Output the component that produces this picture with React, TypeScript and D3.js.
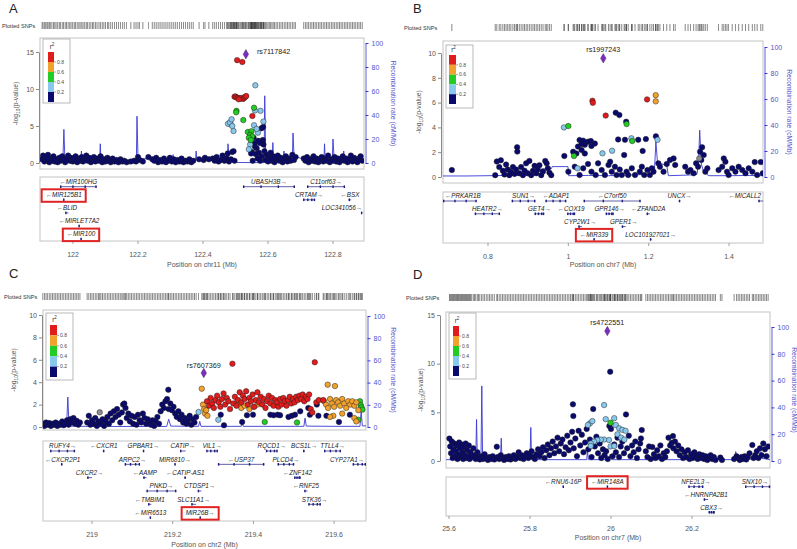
import React, { useEffect, useRef } from "react";
import * as d3 from "d3";

type Pt = [number, number];
type Gene = [string, number, number, number, number, number]; // name, start, end, strand, row, highlighted

// ---------------- shared ----------------
const ldLegendLabels = ["0.8", "0.6", "0.4", "0.2"];
const recombTicks = [0, 20, 40, 60, 80, 100];

// ---------------- Panel A (chr11) ----------------
const aNavy: Pt[] = [
  [121.905,0.5],[121.908,1.0],[121.912,0.2],[121.916,0.8],[121.92,0.4],[121.923,1.1],[121.927,0.1],[121.93,0.6],[121.935,0.3],[121.94,0.9],[121.944,0.2],[121.948,0.5],[121.953,0.1],[121.958,0.7],[121.962,0.3],[121.967,0.9],[121.971,0.4],[121.976,0.1],[121.98,0.6],[121.985,1.0],[121.99,0.3],[121.994,0.7],[121.999,0.2],[122.004,0.5],[122.008,0.9],[122.013,0.1],[122.018,0.6],[122.022,0.3],[122.027,0.8],[122.031,0.2],[122.036,0.5],[122.041,1.0],[122.045,0.3],[122.05,0.7],[122.055,0.1],[122.06,0.4],[122.064,0.8],[122.069,0.2],[122.074,0.6],[122.08,0.3],[122.085,0.9],[122.09,0.1],[122.095,0.5],[122.1,0.2],[122.106,0.7],[122.11,0.3],[122.116,0.1],[122.122,0.6],[122.128,0.2],[122.134,0.4],[122.14,0.1],[122.146,0.5],[122.152,0.2],[122.158,0.3],[122.165,0.1],[122.178,0.2],[122.188,0.3],[122.194,0.2],[122.2,0.8],[122.205,0.4],[122.215,0.2],[122.232,0.8],[122.244,0.5],[122.25,0.3],[122.256,0.7],[122.262,0.1],[122.268,0.4],[122.274,0.2],[122.28,0.6],[122.286,0.1],[122.292,0.3],[122.298,0.7],[122.304,0.2],[122.31,0.5],[122.316,0.1],[122.322,0.4],[122.328,0.2],[122.334,0.6],[122.34,0.1],[122.346,0.3],[122.352,0.2],[122.358,0.5],[122.364,0.1],[122.37,0.3],[122.388,0.5],[122.402,0.4],[122.406,0.7],[122.418,0.5],[122.43,0.6],[122.436,0.3],[122.442,0.8],[122.448,0.2],[122.454,0.4],[122.46,1.0],[122.466,0.3],[122.472,0.6],[122.476,1.3],[122.48,0.2],[122.486,0.5],[122.49,1.5],[122.494,1.6],[122.497,0.3],
  [122.55,1.5],[122.553,0.3],[122.558,2.7],[122.562,1.2],[122.565,2.0],[122.568,0.6],[122.572,1.4],[122.576,0.3],[122.58,0.9],[122.584,3.1],[122.586,2.5],[122.589,1.6],[122.592,0.4],[122.596,1.1],[122.6,0.2],[122.604,0.7],[122.608,1.4],[122.612,0.3],[122.616,0.9],[122.62,0.1],[122.625,0.6],[122.63,1.0],[122.635,0.3],[122.64,0.7],[122.645,0.1],[122.65,0.5],[122.655,0.9],[122.66,0.2],[122.665,0.6],[122.67,0.3],[122.675,1.1],[122.68,0.4],[122.685,0.8],[122.71,0.6],[122.715,0.3],[122.72,0.8],[122.725,0.1],[122.73,0.5],[122.735,0.3],[122.74,0.9],[122.745,0.2],[122.75,0.6],[122.755,0.1],[122.76,0.4],[122.765,0.8],[122.77,0.2],[122.775,0.6],[122.78,0.3],[122.785,1.0],[122.79,0.1],[122.795,0.5],[122.8,0.3],[122.805,0.8],[122.81,0.2],[122.815,0.6],[122.82,0.1],[122.825,0.4],[122.83,0.9],[122.835,0.3],[122.84,0.6],[122.845,0.1],[122.85,0.5],[122.855,1.0],[122.86,0.2],[122.865,0.7],[122.87,0.4],[122.875,0.1],[122.88,0.6],[122.885,0.9],[122.89,0.3],
  [122.556,3.4],[122.548,1.3],[122.56,2.2],[122.58,4.7],[122.585,4.85],[122.57,3.0],[122.575,2.7]
];
const aLightBlue: Pt[] = [[122.561,10.5],[122.577,7.05],[122.56,7.1],[122.485,5.23],[122.477,5.3],[122.483,5.5],[122.494,4.32],[122.49,5.0],[122.488,5.9],[122.586,5.6],[122.557,5.1],[122.569,4.1],[122.549,3.2],[122.545,2.5],[122.541,1.85],[122.565,4.6]];
const aGreen: Pt[] = [[122.557,7.47],[122.503,7.05],[122.502,6.85],[122.524,5.8],[122.538,4.19],[122.549,4.3],[122.545,3.8],[122.551,3.6],[122.541,3.4],[122.547,3.1]];
const aOrange: Pt[] = [];
const aRed: Pt[] = [[122.505,13.9],[122.521,13.65],[122.497,8.95],[122.5,9.0],[122.503,8.85],[122.507,8.8],[122.511,8.75],[122.515,8.7],[122.519,8.8],[122.523,8.65],[122.527,8.8],[122.53,8.95],[122.533,9.05],[122.51,8.6],[122.552,6.35]];
const aGray: Pt[] = [];
const aLead: Pt = [122.532, 14.7];
const aLeadName = "rs7117842";
const aRecombPos = [121.898,121.95,121.969,121.972,121.975,122.0,122.024,122.026,122.028,122.06,122.082,122.084,122.086,122.15,122.195,122.197,122.2,122.25,122.306,122.308,122.31,122.35,122.377,122.379,122.381,122.43,122.475,122.477,122.48,122.5,122.55,122.588,122.59,122.593,122.613,122.615,122.617,122.647,122.649,122.651,122.675,122.677,122.68,122.7,122.772,122.774,122.776,122.798,122.8,122.803,122.831,122.833,122.835,122.87,122.895];
const aRecombRate = [3,3,3,28,4,3,3,10,3,2.5,2.5,16,3,2.5,2.5,39,4,3,3,7,3,3,3,10,3,2.5,3,16,2,0.5,0.3,0.3,56,4,3,17,4,4,10,4,4,25,6,4,3,16,4,4,20,5,3,10,3,2,2];
const aGenes: Gene[] = [
  ["MIR100HG",121.96,122.073,-1,0,0],["UBASH3B",122.523,122.683,1,0,0],["C11orf63",122.72,122.837,1,0,0],
  ["MIR125B1",121.9695,121.9705,-1,1,1],["CRTAM",122.708,122.745,1,1,0],["BSX",122.848,122.856,-1,1,0],
  ["BLID",121.976,121.986,-1,2,0],["LOC341056",122.886,122.89,1,2,0],
  ["MIRLET7A2",122.0168,122.0172,-1,3,0],["MIR100",122.0228,122.0232,-1,4,1]
];
const aXTicks = [122, 122.2, 122.4, 122.6, 122.8];
const aYTicks = [0, 5, 10, 15];

// ---------------- Panel B (chr7) ----------------
const bNavy: Pt[] = [
  [0.71,0.56],
  [0.818,0.15],[0.822,1.25],[0.828,0.8],[0.832,1.35],[0.837,0.5],[0.841,0.2],[0.845,1.0],[0.849,0.6],[0.853,0.15],[0.857,0.4],[0.862,0.8],[0.866,0.25],[0.87,0.6],[0.8725,2.4],[0.873,2.05],[0.878,0.3],[0.8825,0.8],[0.887,0.15],[0.891,0.5],[0.895,1.1],[0.899,0.3],[0.903,1.3],[0.9075,0.15],[0.912,0.5],[0.916,0.9],[0.92,0.3],[0.924,0.6],[0.928,0.95],[0.9325,0.15],[0.937,0.45],[0.9425,1.3],[0.946,1.1],[0.949,0.7],[0.953,0.35],[0.9575,0.15],
  [0.99,1.69],[1.028,2.98],[1.037,2.93],[1.041,2.6],[1.049,2.85],[1.056,2.9],[1.066,2.7],[1.0575,2.5],[1.033,2.66],[1.024,2.45],[1.012,2.04],[1.02,1.9],[1.041,1.9],[1.033,2.17],
  [1.0,0.43],[1.016,0.83],[1.028,0.16],[1.037,0.7],[1.049,1.05],[1.0575,0.43],[1.068,0.16],[1.074,1.1],[1.083,0.56],[1.091,0.16],[1.1,0.97],[1.104,1.23],[1.108,0.43],[1.116,0.83],[1.12,0.16],[1.124,3.03],[1.128,0.6],[1.133,0.16],[1.139,1.77],[1.141,3.0],[1.145,0.43],[1.149,0.16],[1.158,0.7],[1.166,0.16],[1.174,3.0],[1.178,0.43],[1.183,0.83],[1.185,2.1],[1.189,0.16],[1.193,3.06],[1.197,0.56],[1.203,0.16],[1.208,0.7],[1.212,0.43],[1.218,3.28],[1.224,1.1],[1.228,0.83],[1.237,0.43],[1.245,1.05],[1.253,1.37],[1.262,1.5],[1.266,0.97],
  [1.118,5.19],[1.127,5.0],[1.144,4.46],
  [1.291,0.83],[1.298,0.43],[1.304,0.56],[1.312,0.3],[1.318,1.1],[1.323,0.83],[1.328,2.04],[1.333,2.4],[1.337,1.77],[1.331,1.37],[1.341,0.43],[1.346,0.7],[1.374,0.56],[1.383,0.83],[1.387,1.5],[1.391,1.23],[1.395,0.43],[1.399,0.16],[1.408,0.7],[1.416,0.43],[1.424,0.83],[1.433,0.56],[1.441,0.3],[1.449,0.7],[1.458,0.43],[1.464,1.2],[1.47,0.16],[1.479,1.2],[1.484,0.3]
];
const bLightBlue: Pt[] = [[0.989,4.0],[1.085,1.91],[1.109,2.12],[1.023,0.7],[1.157,3.12],[1.222,3.0]];
const bGreen: Pt[] = [[1.0,4.11],[1.145,4.27],[1.014,1.69],[1.159,2.9]];
const bOrange: Pt[] = [[1.2175,6.6],[1.2175,6.1]];
const bRed: Pt[] = [[1.06,6.15],[1.061,5.98],[1.093,4.95],[1.196,6.26]];
const bGray: Pt[] = [[1.326,1.5]];
const bLead: Pt = [1.087, 9.57];
const bLeadName = "rs1997243";
const bRecombPos = [0.688,0.75,0.8,0.85,0.9,0.93,0.932,0.958,0.96,0.999,1.001,1.05,1.1,1.15,1.2,1.214,1.218,1.222,1.245,1.249,1.3,1.32,1.324,1.327,1.331,1.336,1.345,1.35,1.4,1.45,1.485];
const bRecombRate = [0.8,0.8,1,1.2,1.5,1.5,6,6.5,8,8,1,1.2,1,1.5,2,3,27,11,9,1,1.5,2,10,36,10,5,2,1,1,1.2,1];
const bGenes: Gene[] = [
  ["PRKAR1B",0.688,0.772,-1,0,0],["SUN1",0.859,0.918,1,0,0],["ADAP1",0.943,0.995,-1,0,0],["C7orf50",1.038,1.18,-1,0,0],["UNCX",1.275,1.279,1,0,0],["MICALL2",1.473,1.485,-1,0,0],
  ["HEATR2",0.767,0.83,1,1,0],["GET4",0.916,0.94,1,1,0],["COX19",0.997,1.017,-1,1,0],["GPR146",1.093,1.113,1,1,0],["ZFAND2A",1.195,1.203,-1,1,0],
  ["CYP2W1",1.025,1.034,1,2,0],["GPER1",1.133,1.143,1,2,0],
  ["MIR339",1.0625,1.0627,-1,3,1],["LOC101927021",1.203,1.207,1,3,0]
];
const bXTicks = [0.8, 1, 1.2, 1.4];
const bYTicks = [0, 2, 4, 6, 8, 10];

// ---------------- Panel C (chr2) ----------------
const cNavy: Pt[] = [
  [218.878,0.3],[218.882,0.1],[218.886,0.4],[218.89,0.2],[218.894,0.35],[218.898,0.1],[218.902,0.3],[218.906,0.2],[218.91,0.4],[218.914,0.1],[218.918,0.3],[218.922,0.2],[218.926,0.5],[218.93,0.15],[218.934,0.35],[218.938,0.6],[218.942,0.2],[218.946,0.7],[218.95,0.4],[218.954,0.8],[218.958,0.3],[218.962,0.55],[218.966,0.2],[218.97,0.4],
  [218.988,0.4],[218.992,1.0],[218.996,0.2],[219.0,0.6],[219.004,0.3],[219.008,0.8],[219.012,0.1],[219.016,0.5],[219.022,0.3],[219.026,0.7],[219.03,0.1],[219.034,0.5],[219.038,0.9],[219.042,0.3],[219.046,1.2],[219.05,0.6],[219.054,1.4],[219.058,0.9],[219.062,1.6],[219.066,1.1],[219.07,0.4],[219.074,1.3],[219.077,2.0],[219.08,2.1],[219.083,1.7],[219.086,0.8],[219.09,1.2],[219.094,0.5],[219.098,1.0],[219.102,0.3],[219.106,0.9],[219.11,0.2],[219.114,1.1],[219.118,0.6],[219.122,0.4],[219.126,1.2],[219.13,0.8],[219.134,0.3],[219.138,0.7],[219.142,0.4],[219.146,0.2],[219.15,0.6],[219.154,0.1],[219.158,0.5],[219.162,0.9],[219.166,0.3],[219.17,1.4],[219.174,2.0],[219.178,1.7],[219.182,2.3],[219.186,2.5],[219.189,3.33],[219.19,1.6],[219.194,2.1],[219.198,1.5],[219.202,1.8],[219.206,1.2],[219.21,0.9],[219.214,1.4],[219.218,0.7],[219.222,1.1],[219.226,0.4],[219.23,0.8],[219.234,0.3],[219.238,0.6],[219.242,1.0],[219.246,0.2],[219.25,0.7],[219.254,0.4],[219.258,0.9],
  [219.319,1.1],[219.327,0.15],[219.372,0.45],[219.384,1.05],[219.399,1.1],[219.442,1.1],[219.45,1.05],[219.46,1.1],[219.466,1.05],[219.487,0.9],[219.495,1.0],[219.503,1.1],[219.516,1.4],[219.536,1.7],[219.54,1.1],[219.557,2.0],[219.561,1.0],[219.581,1.0],[219.612,0.45],[219.639,1.1]
];
const cLightBlue: Pt[] = [[219.264,1.34],[219.313,0.65]];
const cGreen: Pt[] = [[219.428,0.45],[219.508,0.4],[219.664,2.3],[219.666,1.95],[219.668,1.75],[219.67,1.55],[219.66,0.65]];
const cOrange: Pt[] = [[219.272,3.42],[219.275,2.0],[219.278,1.6],[219.28,1.2],[219.283,1.5],[219.286,1.0],[219.36,2.3],[219.364,2.0],[219.37,1.7],[219.378,1.9],[219.39,1.6],[219.4,1.8],[219.41,2.0],[219.584,3.78],[219.602,3.66],[219.575,2.3],[219.58,2.0],[219.585,1.7],[219.59,2.5],[219.595,2.1],[219.6,1.8],[219.605,2.4],[219.61,2.2],[219.615,1.9],[219.62,2.5],[219.625,2.1],[219.63,1.7],[219.635,2.3],[219.64,2.0],[219.645,2.3],[219.65,1.9],[219.655,2.2],[219.66,1.5],[219.598,1.0],[219.59,0.9],[219.62,1.2],[219.65,0.8],[219.655,0.5]];
const cRed: Pt[] = [[219.285,2.3],[219.29,1.9],[219.294,2.6],[219.298,2.1],[219.302,1.7],[219.306,2.4],[219.31,2.8],[219.314,2.2],[219.318,1.8],[219.322,2.5],[219.326,3.0],[219.33,2.0],[219.334,2.6],[219.338,2.3],[219.342,1.6],[219.348,5.65],[219.35,2.1],[219.354,2.7],[219.358,1.9],[219.362,2.4],[219.366,3.1],[219.37,2.2],[219.374,2.8],[219.378,2.5],[219.382,3.2],[219.386,2.0],[219.39,2.6],[219.394,2.3],[219.398,2.9],[219.402,1.8],[219.406,2.4],[219.41,3.1],[219.414,2.2],[219.418,2.7],[219.422,2.0],[219.426,2.5],[219.43,1.7],[219.434,2.3],[219.438,2.8],[219.442,2.1],[219.446,2.6],[219.45,1.9],[219.454,2.4],[219.458,2.2],[219.462,1.8],[219.466,2.5],[219.47,2.0],[219.474,2.6],[219.478,2.3],[219.482,1.9],[219.486,2.4],[219.49,2.7],[219.494,2.1],[219.498,2.5],[219.502,2.2],[219.506,2.7],[219.51,2.4],[219.514,2.8],[219.518,2.5],[219.522,2.9],[219.526,2.3],[219.53,2.7],[219.534,2.5],[219.538,2.9],[219.542,1.6],[219.546,1.3],[219.552,5.78],[219.556,2.2],[219.562,2.4],[219.573,2.4]];
const cGray: Pt[] = [[219.019,1.31]];
const cLead: Pt = [219.277, 4.82];
const cLeadName = "rs7607369";
const cRecombPos = [218.878,218.93,218.937,218.94,218.943,219.0,219.1,219.185,219.19,219.195,219.264,219.267,219.27,219.37,219.372,219.375,219.525,219.528,219.531,219.6,219.664,219.667,219.67,219.679];
const cRecombRate = [0.5,0.5,0.5,27,0.8,0.5,0.5,0.5,7,0.8,0.6,5,0.6,0.6,4,0.6,0.6,8,0.8,0.6,0.6,14,1,1];
const cGenes: Gene[] = [
  ["RUFY4",218.896,218.958,1,0,0],["CXCR1",219.027,219.031,-1,0,0],["GPBAR1",219.126,219.128,1,0,0],["CATIP",219.218,219.232,1,0,0],["VIL1",219.283,219.312,1,0,0],["RQCD1",219.431,219.46,1,0,0],["BCS1L",219.523,219.528,1,0,0],["TTLL4",219.575,219.617,1,0,0],
  ["CXCR2P1",218.923,218.927,-1,1,0],["ARPC2",219.081,219.119,1,1,0],["MIR6810",219.204,219.206,1,1,0],["USP37",219.312,219.427,-1,1,0],["PLCD4",219.46,219.501,1,1,0],["CYP27A1",219.646,219.679,1,1,0],
  ["CXCR2",218.988,219.0,1,2,0],["AAMP",219.127,219.135,-1,2,0],["CATIP-AS1",219.229,219.233,-1,2,0],["ZNF142",219.501,219.517,-1,2,0],
  ["PNKD",219.135,219.209,1,3,0],["CTDSP1",219.262,219.271,1,3,0],["RNF25",219.526,219.534,-1,3,0],
  ["TMBIM1",219.139,219.147,-1,4,0],["SLC11A1",219.246,219.258,1,4,0],["STK36",219.536,219.567,1,4,0],
  ["MIR6513",219.1429,219.1432,-1,5,0],["MIR26B",219.2665,219.2667,1,5,1]
];
const cXTicks = [219, 219.2, 219.4, 219.6];
const cYTicks = [0, 2, 4, 6, 8, 10];

// ---------------- Panel D (chr7) ----------------
const dNavy: Pt[] = [
  [25.601,2.3],[25.603,1.5],[25.605,0.8],[25.607,2.0],[25.609,0.3],[25.611,1.2],[25.613,1.8],[25.615,0.5],[25.617,1.0],[25.619,1.6],[25.621,0.2],[25.623,0.7],[25.625,1.9],[25.627,1.3],[25.629,0.4],[25.631,1.7],[25.633,0.9],[25.635,0.2],[25.637,1.4],[25.639,0.6],[25.641,1.8],[25.643,0.3],[25.645,1.1],[25.647,0.5],[25.649,1.6],[25.651,0.2],[25.653,0.9],[25.656,0.4],[25.66,1.3],[25.663,0.6],[25.666,0.2],[25.67,0.9],[25.673,0.4],[25.676,0.15],[25.68,0.5],[25.684,0.2],[25.688,0.7],[25.692,0.3],[25.696,0.1],[25.7,0.4],[25.704,0.2],[25.708,0.5],[25.712,0.15],[25.718,1.47],[25.72,0.4],[25.724,0.2],[25.728,0.6],[25.732,0.3],[25.736,0.1],[25.74,0.4],[25.744,0.2],[25.748,0.5],[25.752,0.15],[25.756,0.3],[25.76,0.6],[25.764,0.2],[25.768,0.4],[25.772,0.9],[25.776,0.3],[25.78,0.6],[25.784,0.2],[25.788,0.5],[25.792,0.8],[25.796,0.3],[25.8,0.6],[25.804,1.0],[25.808,0.4],[25.812,0.2],[25.816,0.7],[25.82,1.2],[25.824,0.5],[25.828,0.9],[25.832,1.4],[25.836,0.3],[25.84,1.1],[25.844,1.7],[25.848,0.6],[25.852,1.3],[25.856,2.0],[25.86,0.8],[25.864,1.5],[25.868,2.4],[25.872,1.0],[25.876,1.8],[25.88,2.2],[25.884,0.7],[25.888,1.4],[25.892,2.6],[25.896,1.1],[25.9,1.9],[25.904,3.0],[25.906,5.82],[25.907,4.62],[25.908,1.3],[25.912,2.3],[25.916,0.5],[25.92,3.1],[25.924,1.6],[25.928,2.7],[25.932,0.9],[25.936,1.9],[25.94,3.3],[25.944,1.2],[25.948,2.2],[25.952,0.4],[25.956,5.34],[25.96,1.5],[25.964,2.5],[25.968,0.8],[25.972,1.8],[25.976,0.3],[25.98,1.2],[25.984,0.6],[25.988,1.0],[25.992,0.2],[25.998,9.17],[25.996,3.6],[26.0,3.3],[26.004,0.5],[26.008,1.7],[26.012,0.9],[26.016,2.4],[26.02,0.4],[26.024,1.5],[26.028,2.0],[26.032,0.8],[26.037,4.79],[26.04,1.3],[26.044,2.6],[26.048,0.5],[26.052,1.6],[26.056,0.9],[26.06,2.0],[26.064,0.3],[26.068,1.2],[26.072,1.8],[26.076,3.18],[26.074,2.32],[26.086,1.0],[26.09,0.4],[26.094,1.5],[26.098,0.2],[26.102,1.43],[26.106,0.7],[26.11,0.3],[26.114,1.1],[26.118,0.5],[26.122,1.6],[26.126,0.2],[26.13,0.8],[26.134,0.4],[26.138,1.0],[26.142,2.4],[26.146,1.6],[26.153,2.56],[26.15,1.88],[26.154,1.3],[26.158,2.0],[26.162,1.0],[26.166,1.6],[26.17,0.6],[26.174,1.2],[26.178,0.3],[26.182,0.9],[26.186,0.4],[26.19,1.1],[26.194,0.2],[26.198,0.7],[26.202,0.3],[26.206,0.9],[26.21,0.5],[26.214,0.2],[26.218,0.7],[26.222,0.3],[26.226,0.6],[26.23,0.2],[26.234,0.5],[26.238,0.1],[26.242,0.4],[26.246,0.6],[26.25,0.2],[26.254,0.4],[26.258,0.1],[26.27,0.35],[26.274,0.1],[26.304,0.2],[26.31,0.5],[26.314,0.3],[26.318,0.1],[26.322,0.4],[26.326,0.2],[26.33,0.5],[26.334,0.15],[26.338,0.4],[26.342,0.8],[26.349,1.64],[26.352,0.3],[26.356,0.6],[26.36,1.0],[26.364,0.3],[26.368,1.3],[26.372,0.6],[26.376,1.8],[26.38,1.2],[26.384,0.5],[26.388,1.5]
];
const dLightBlue: Pt[] = [[25.983,5.75],[25.948,3.87],[25.954,4.1],[25.943,3.7],[25.987,4.3],[26.008,4.4],[26.012,3.7],[26.02,3.36],[26.028,3.2],[26.036,3.1],[26.016,2.74],[26.025,2.4],[26.033,2.2],[25.995,2.16],[25.983,2.2],[25.975,2.2],[25.966,2.16],[25.958,2.0],[25.95,1.8],[25.95,1.54],[25.999,1.5],[26.008,1.54]];
const dGreen: Pt[] = [[25.999,3.93]];
const dOrange: Pt[] = [];
const dRed: Pt[] = [];
const dGray: Pt[] = [];
const dLead: Pt = [25.991, 13.35];
const dLeadName = "rs4722551";
const dRecombPos = [25.593,25.64,25.666,25.668,25.67,25.679,25.681,25.683,25.7,25.727,25.729,25.731,25.8,25.802,25.804,25.9,25.94,25.942,25.944,25.995,25.998,26.001,26.1,26.306,26.308,26.31,26.368,26.37,26.372,26.393];
const dRecombRate = [1,1,1,31,2,2,56,2,1,1,17,1,1,25,1,1,1,8,1,1,5,1,1,1,7,2,1,7,2,1];
const dGenes: Gene[] = [
  ["RNU6-16P",25.8805,25.8815,-1,0,0],["MIR148A",25.9895,25.9897,-1,0,1],["NFE2L3",26.191,26.228,1,0,0],["SNX10",26.331,26.393,1,0,0],
  ["HNRNPA2B1",26.229,26.24,-1,1,0],["CBX3",26.241,26.256,1,2,0]
];
const dXTicks = [25.6, 25.8, 26, 26.2];
const dYTicks = [0, 5, 10, 15];

// ---------------- style ----------------
const FONT = "'Liberation Sans', Arial, Helvetica, sans-serif";
const LD_COLORS = { red: "#e01c1c", orange: "#f2a22c", green: "#22cc22", lightblue: "#88c8ec", navy: "#0a0a6e", gray: "#8c8c8c", lead: "#7b2fbe" };
const RECOMB_COLOR = "#3a3ad6";

const panels = [
  { letter: "A", chr: "chr11", data: { navy: aNavy, lightblue: aLightBlue, green: aGreen, orange: aOrange, red: aRed, gray: aGray, lead: aLead, leadName: aLeadName, rPos: aRecombPos, rRate: aRecombRate, genes: aGenes, xTicks: aXTicks, yTicks: aYTicks },
    L: { letterX: 9, letterY: 13, snpLabelX: 2, snpY: 22, left: 40, right: 364, top: 38, bottom: 169, xDomain: [121.8985, 122.8954], y0: 163, yTopPx: 52, r100: 43, genesTop: 177, genesBottom: 241, row0: 181.7, rowStep: 13.1, tickLabelY: 256.5, titleY: 266.5, axisX: 39, ylabX: 18, rlabX: 391, legend: { x: 43, y: 39, w: 27, h: 64, bx: 48, by: 52, bw: 6, bh: 50 }, lead: { dx: 11, dy: 0, anchor: "start" } } },
  { letter: "B", chr: "chr7", data: { navy: bNavy, lightblue: bLightBlue, green: bGreen, orange: bOrange, red: bRed, gray: bGray, lead: bLead, leadName: bLeadName, rPos: bRecombPos, rRate: bRecombRate, genes: bGenes, xTicks: bXTicks, yTicks: bYTicks },
    L: { letterX: 413, letterY: 13, snpLabelX: 404, snpY: 24, left: 443, right: 763, top: 41, bottom: 183, xDomain: [0.688, 1.4846], y0: 177, yTopPx: 53, r100: 47, genesTop: 192, genesBottom: 243, row0: 196, rowStep: 12.8, tickLabelY: 258.5, titleY: 267, axisX: 441, ylabX: 421, rlabX: 787, legend: { x: 446, y: 45, w: 27, h: 63, bx: 449, by: 55, bw: 7, bh: 49 }, lead: { dx: 0, dy: -6, anchor: "middle" } } },
  { letter: "C", chr: "chr2", data: { navy: cNavy, lightblue: cLightBlue, green: cGreen, orange: cOrange, red: cRed, gray: cGray, lead: cLead, leadName: cLeadName, rPos: cRecombPos, rRate: cRecombRate, genes: cGenes, xTicks: cXTicks, yTicks: cYTicks },
    L: { letterX: 9, letterY: 278, snpLabelX: 4, snpY: 293, left: 43, right: 366, top: 310, bottom: 430, xDomain: [218.8785, 219.679], y0: 427, yTopPx: 315, r100: 316, genesTop: 441, genesBottom: 521, row0: 446, rowStep: 13.33, tickLabelY: 536.5, titleY: 546.5, axisX: 42, ylabX: 16, rlabX: 391, legend: { x: 46, y: 313, w: 27, h: 67, bx: 50, by: 325, bw: 7, bh: 52 }, lead: { dx: 0, dy: -5, anchor: "middle" } } },
  { letter: "D", chr: "chr7", data: { navy: dNavy, lightblue: dLightBlue, green: dGreen, orange: dOrange, red: dRed, gray: dGray, lead: dLead, leadName: dLeadName, rPos: dRecombPos, rRate: dRecombRate, genes: dGenes, xTicks: dXTicks, yTicks: dYTicks },
    L: { letterX: 413, letterY: 279, snpLabelX: 406, snpY: 294, left: 446, right: 770, top: 312, bottom: 468, xDomain: [25.5926, 26.3926], y0: 461, yTopPx: 315, r100: 327, genesTop: 477, genesBottom: 516, row0: 481.7, rowStep: 12.8, tickLabelY: 530.5, titleY: 539.5, axisX: 440, ylabX: 423, rlabX: 792, legend: { x: 449, y: 313, w: 27, h: 66, bx: 453, by: 326, bw: 6, bh: 50 }, lead: { dx: 0, dy: -6, anchor: "middle" } } }
];

function drawPanel(svg: any, panel: any, idx: number) {
  const { data: d, L } = panel;
  const g = svg.append("g").attr("font-family", FONT);
  const yTopVal = d.yTicks[d.yTicks.length - 1];
  const x = d3.scaleLinear().domain(L.xDomain).range([L.left, L.right]);
  const y = d3.scaleLinear().domain([0, yTopVal]).range([L.y0, L.yTopPx]);
  const r = d3.scaleLinear().domain([0, 100]).range([L.y0, L.r100]);

  // panel letter
  g.append("text").attr("x", L.letterX).attr("y", L.letterY).attr("font-size", 13).attr("fill", "#222").text(panel.letter);

  // plotted SNPs barcode
  g.append("text").attr("x", L.snpLabelX).attr("y", L.snpY + 5.5).attr("font-size", 5.6).attr("fill", "#333").text("Plotted SNPs");
  const allPos: number[] = [...d.navy, ...d.lightblue, ...d.green, ...d.orange, ...d.red, ...d.gray, d.lead].map((p: Pt) => p[0]);
  g.append("g").selectAll("line").data(allPos).join("line")
    .attr("x1", (v: number) => x(v)).attr("x2", (v: number) => x(v))
    .attr("y1", L.snpY).attr("y2", L.snpY + 7)
    .attr("stroke", "#3a3a3a").attr("stroke-width", 0.7).attr("opacity", 0.85);

  // frames
  g.append("rect").attr("x", L.left).attr("y", L.top).attr("width", L.right - L.left).attr("height", L.bottom - L.top)
    .attr("fill", "#fff").attr("stroke", "#c4c4c4").attr("stroke-width", 1);
  g.append("rect").attr("x", L.left).attr("y", L.genesTop).attr("width", L.right - L.left).attr("height", L.genesBottom - L.genesTop)
    .attr("fill", "#fff").attr("stroke", "#c4c4c4").attr("stroke-width", 1);

  const clipId = "clip" + idx;
  g.append("clipPath").attr("id", clipId).append("rect")
    .attr("x", L.left).attr("y", L.top).attr("width", L.right - L.left).attr("height", L.bottom - L.top);
  const plot = g.append("g").attr("clip-path", `url(#${clipId})`);

  // recombination rate line
  const line = d3.line<number>().x((_v: number, i: number) => x(d.rPos[i])).y((v: number) => r(v));
  plot.append("path").attr("d", line(d.rRate)).attr("fill", "none").attr("stroke", RECOMB_COLOR).attr("stroke-width", 1).attr("opacity", 0.9);

  // points
  const groups: [Pt[], string][] = [
    [d.navy, LD_COLORS.navy], [d.gray, LD_COLORS.gray], [d.lightblue, LD_COLORS.lightblue],
    [d.green, LD_COLORS.green], [d.orange, LD_COLORS.orange], [d.red, LD_COLORS.red]
  ];
  groups.forEach(([pts, col]) => {
    plot.append("g").selectAll("circle").data(pts).join("circle")
      .attr("cx", (p: Pt) => x(p[0])).attr("cy", (p: Pt) => y(p[1])).attr("r", 2.75)
      .attr("fill", col).attr("stroke", "#1a1a1a").attr("stroke-width", 0.45);
  });
  plot.append("path").attr("d", d3.symbol(d3.symbolDiamond, 26)())
    .attr("transform", `translate(${x(d.lead[0])},${y(d.lead[1])})`)
    .attr("fill", LD_COLORS.lead).attr("stroke", "#3a1a5a").attr("stroke-width", 0.4);
  g.append("text").attr("x", x(d.lead[0]) + L.lead.dx).attr("y", y(d.lead[1]) + L.lead.dy)
    .attr("text-anchor", L.lead.anchor).attr("font-size", 7.2).attr("fill", "#222").text(d.leadName);

  // legend
  const lg = L.legend;
  g.append("rect").attr("x", lg.x).attr("y", lg.y).attr("width", lg.w).attr("height", lg.h)
    .attr("fill", "#fff").attr("stroke", "#a8a8a8").attr("stroke-width", 0.8);
  const legCols = [LD_COLORS.red, LD_COLORS.orange, LD_COLORS.green, LD_COLORS.lightblue, LD_COLORS.navy];
  const segH = lg.bh / legCols.length;
  g.append("g").selectAll("rect").data(legCols).join("rect")
    .attr("x", lg.bx).attr("y", (_c: string, i: number) => lg.by + i * segH).attr("width", lg.bw).attr("height", segH)
    .attr("fill", (c: string) => c);
  ldLegendLabels.forEach((t, i) => {
    const yy = lg.by + (i + 1) * segH;
    g.append("line").attr("x1", lg.bx + lg.bw).attr("x2", lg.bx + lg.bw + 2).attr("y1", yy).attr("y2", yy).attr("stroke", "#555").attr("stroke-width", 0.5);
    g.append("text").attr("x", lg.bx + lg.bw + 3).attr("y", yy + 1.8).attr("font-size", 5).attr("fill", "#444").text(t);
  });
  const rt = g.append("text").attr("x", lg.bx + lg.bw / 2 + 1).attr("y", lg.by - 3.5).attr("text-anchor", "middle").attr("font-size", 6.5).attr("fill", "#333");
  rt.append("tspan").text("r");
  rt.append("tspan").attr("dy", -2.5).attr("font-size", 4.5).text("2");

  // left axis
  const ax = g.append("g").attr("transform", `translate(${L.axisX},0)`)
    .call(d3.axisLeft(y).tickValues(d.yTicks).tickSize(3).tickSizeOuter(0).tickPadding(2));
  ax.select(".domain").attr("stroke", "#8a8a8a");
  ax.selectAll(".tick line").attr("stroke", "#8a8a8a");
  ax.selectAll("text").attr("font-size", 7).attr("fill", "#555").attr("font-family", FONT);

  // right axis
  const rx = g.append("g").attr("transform", `translate(${L.right + 1.5},0)`)
    .call(d3.axisRight(r).tickValues(recombTicks).tickSize(3).tickSizeOuter(0).tickPadding(3));
  rx.select(".domain").attr("stroke", RECOMB_COLOR).attr("opacity", 0.8);
  rx.selectAll(".tick line").attr("stroke", RECOMB_COLOR);
  rx.selectAll("text").attr("font-size", 7).attr("fill", "#5252cc").attr("font-family", FONT);

  // axis titles
  const ymid = (L.top + L.bottom) / 2;
  const yt = g.append("text").attr("transform", `translate(${L.ylabX},${ymid}) rotate(-90)`).attr("text-anchor", "middle")
    .attr("font-size", 6.8).attr("fill", "#555");
  yt.append("tspan").text("-log");
  yt.append("tspan").attr("dy", 1.8).attr("font-size", 4.8).text("10");
  yt.append("tspan").attr("dy", -1.8).text("(p-value)");
  g.append("text").attr("transform", `translate(${L.rlabX},${ymid}) rotate(90)`).attr("text-anchor", "middle")
    .attr("font-size", 6.8).attr("fill", "#5252cc").text("Recombination rate (cM/Mb)");

  // x axis ticks
  const fmt = d3.format("~g");
  d.xTicks.forEach((t: number) => {
    g.append("line").attr("x1", x(t)).attr("x2", x(t)).attr("y1", L.genesBottom).attr("y2", L.genesBottom + 3)
      .attr("stroke", "#8a8a8a").attr("stroke-width", 0.8);
    g.append("text").attr("x", x(t)).attr("y", L.tickLabelY).attr("text-anchor", "middle")
      .attr("font-size", 7).attr("fill", "#555").text(fmt(t));
  });
  g.append("text").attr("x", (L.left + L.right) / 2).attr("y", L.titleY).attr("text-anchor", "middle")
    .attr("font-size", 7).attr("fill", "#555").text(`Position on ${panel.chr} (Mb)`);

  // genes
  const gg = g.append("g");
  d.genes.forEach((gene: Gene) => {
    const [name, s, e, strand, row, hl] = gene;
    const cy = L.row0 + row * L.rowStep;
    const ly = cy + 5;
    const x1 = x(s), x2 = Math.max(x(e), x(s) + 1.2);
    gg.append("line").attr("x1", x1).attr("x2", x2).attr("y1", ly).attr("y2", ly).attr("stroke", "#1c1c80").attr("stroke-width", 0.7);
    const ends = x2 - x1 > 6 ? [x1, (x1 * 2 + x2) / 3, (x1 + x2 * 2) / 3, x2 - 1.4] : [x1];
    ends.forEach((ex) => {
      gg.append("rect").attr("x", ex).attr("y", ly - 1.3).attr("width", 1.4).attr("height", 2.6).attr("fill", "#1c1c80");
    });
    const label = strand < 0 ? "\u2190" + name : name + "\u2192";
    const cx = (x1 + x2) / 2;
    const txt = gg.append("text").attr("x", cx).attr("y", cy + 2.3).attr("text-anchor", "middle")
      .attr("font-size", 6.3).attr("font-style", "italic").attr("fill", "#222").text(label);
    const node = txt.node() as SVGTextElement;
    const w = node.getComputedTextLength ? node.getComputedTextLength() : label.length * 3.4;
    let left = cx - w / 2;
    if (left < L.left + 2) left = L.left + 2;
    if (left + w > L.right - 2) left = L.right - 2 - w;
    txt.attr("x", left + w / 2);
    if (hl) {
      gg.append("rect").attr("x", left - 4).attr("y", cy - 5.5).attr("width", w + 8).attr("height", 12.5)
        .attr("fill", "none").attr("stroke", "#e02424").attr("stroke-width", 2);
    }
  });
}

export default function App() {
  const ref = useRef<SVGSVGElement | null>(null);
  useEffect(() => {
    const svg = d3.select(ref.current);
    svg.selectAll("*").remove();
    panels.forEach((p, i) => drawPanel(svg, p, i));
  }, []);
  return (
    <svg ref={ref} width={797} height={549} style={{ position: "absolute", left: 0, top: 0, background: "#fff" }} />
  );
}
